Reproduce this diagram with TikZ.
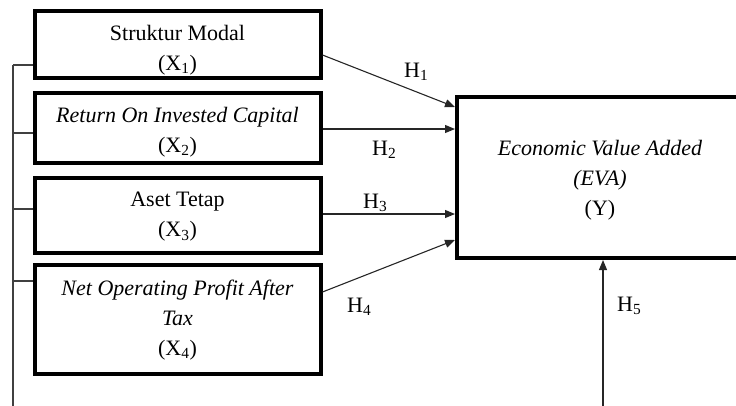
\documentclass[tikz,border=0pt]{standalone}
\usepackage{fontspec}
\setmainfont{Liberation Serif}
\usetikzlibrary{arrows.meta}

\begin{document}
\begin{tikzpicture}[
    x=1pt, y=-1pt,
    font=\fontsize{22}{30}\selectfont,
    box/.style={rectangle, draw=black, line width=4pt, minimum width=286pt},
    txt/.style={align=center, inner sep=0pt},
    hyp/.style={anchor=base west, inner sep=0pt},
    arr/.style={-{Triangle[length=10pt, width=8pt]}, line width=1.1pt, draw=black!85},
    bus/.style={line width=1.2pt, draw=black!75}
  ]
    \useasboundingbox (0,0) rectangle (736,405);
    \clip (0,0) rectangle (736,405);

    % texts first, borders on top
    \node[txt] (smt)    at (177.5,50)  {Struktur Modal\\(X\textsubscript{1})};
    \node[txt] (roict)  at (177.5,132) {\textit{Return On Invested Capital}\\(X\textsubscript{2})};
    \node[txt] (att)    at (177.5,217) {Aset Tetap\\(X\textsubscript{3})};
    \node[txt] (nopatt) at (177.5,320) {\textit{Net Operating Profit After}\\\textit{Tax}\\(X\textsubscript{4})};
    \node[txt] (evat)   at (600,180)   {\textit{Economic Value Added}\\\textit{(EVA)}\\(Y)};

    \node[box, minimum height=67.5pt] (sm)    at (177.5,44.25) {};
    \node[box, minimum height=70pt]   (roic)  at (177.5,128)   {};
    \node[box, minimum height=75pt]   (at)    at (177.5,215.5) {};
    \node[box, minimum height=109pt]  (nopat) at (177.5,319)   {};
    \node[box, minimum height=161pt]  (eva)   at (600,177.5)   {};

    % left bus
    \coordinate (bus1) at (13,65);
    \coordinate (bus2) at (13,133);
    \coordinate (bus3) at (13,209);
    \coordinate (bus4) at (13,281);
    \coordinate (busend) at (13,410);
    \draw[bus] (bus1) -- (busend);
    \draw[bus] (bus1) -- (bus1 -| sm.west);
    \draw[bus] (bus2) -- (bus2 -| roic.west);
    \draw[bus] (bus3) -- (bus3 -| at.west);
    \draw[bus] (bus4) -- (bus4 -| nopat.west);

    % hypotheses
    \draw[arr] (sm.east |- 0,55)     -- (eva.west |- 0,107);
    \draw[arr] (roic.east |- 0,129)  -- (eva.west |- 0,129);
    \draw[arr] (at.east |- 0,214)    -- (eva.west |- 0,214);
    \draw[arr] (nopat.east |- 0,292) -- (eva.west |- 0,240);
    \coordinate (h5src) at (603,410);
    \draw[arr] (h5src) -- (eva.south -| h5src);

    \node[hyp] (h1) at (404,77)  {H\textsubscript{1}};
    \node[hyp] (h2) at (372,155) {H\textsubscript{2}};
    \node[hyp] (h3) at (363,208) {H\textsubscript{3}};
    \node[hyp] (h4) at (347,312) {H\textsubscript{4}};
    \node[hyp] (h5) at (617,311) {H\textsubscript{5}};
  \end{tikzpicture}
\end{document}
